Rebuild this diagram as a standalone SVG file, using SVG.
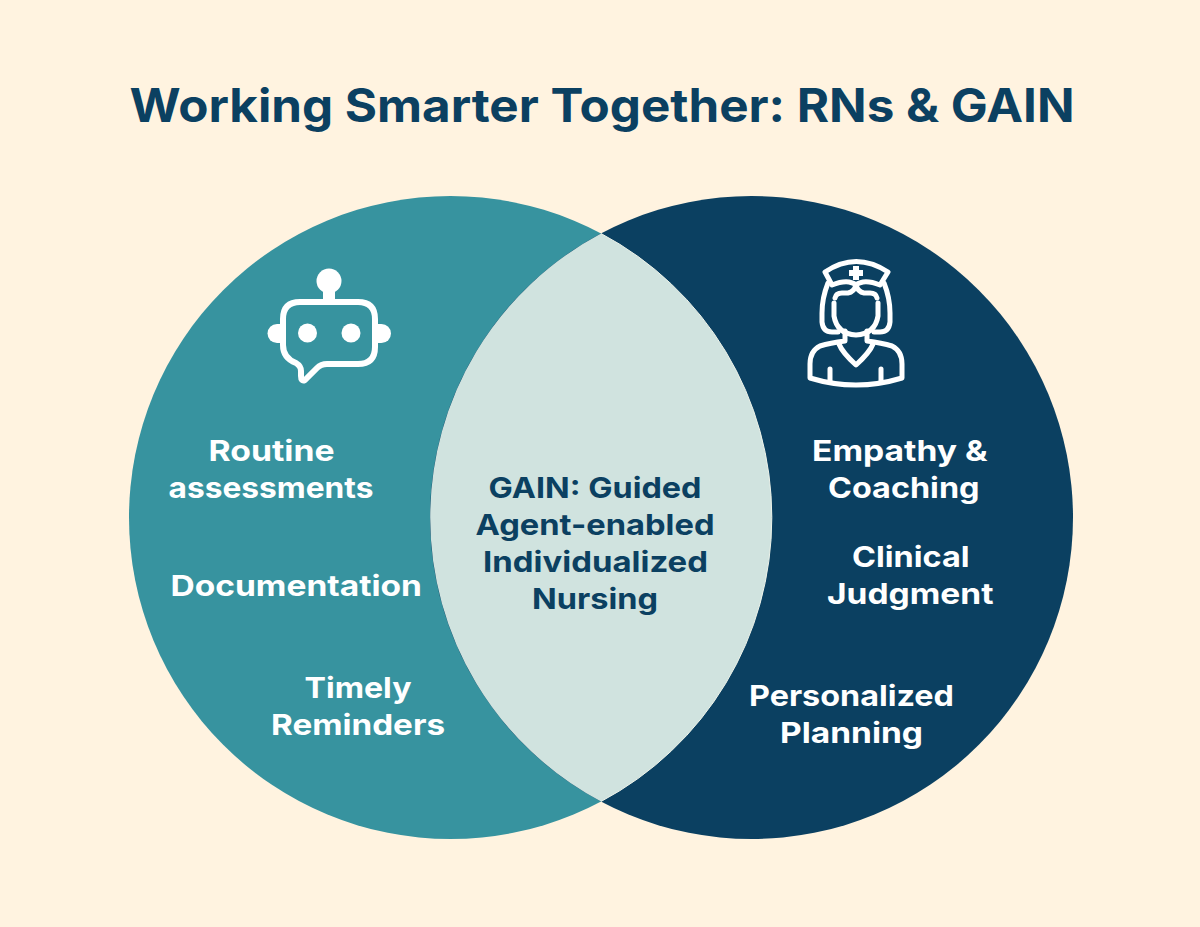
<svg xmlns="http://www.w3.org/2000/svg" width="1200" height="927" viewBox="0 0 1200 927">
<style>
text{font-family:"Inter","Liberation Sans",sans-serif;font-weight:700;font-size:29px}
.w{fill:#fff}.n{fill:#0B4061}
.ln{fill:none;stroke:#fff;stroke-width:5;stroke-linecap:round;stroke-linejoin:round}
.t{font-size:46px}
</style>
<rect width="1200" height="927" fill="#FFF3E0"/>
<text id="title" class="t n" x="129.500" y="122" textLength="945" lengthAdjust="spacingAndGlyphs">Working Smarter Together: RNs &amp; GAIN</text>
<g id="left-circle">
<circle cx="450.5" cy="517.5" r="321.5" fill="#37939F"/>
</g>
<g id="right-circle">
<circle cx="751.5" cy="517.5" r="321.5" fill="#0B4061"/>
</g>
<g id="overlap">
<path d="M601 233.5A321.5 321.5 0 0 1 601 801.5A321.5 321.5 0 0 1 601 233.5Z" fill="#D0E3DF"/>
<path d="M601 233.5A321.5 321.5 0 0 1 601 801.5" fill="none" stroke="#EEF3EA" stroke-width="1"/>
</g>
<g id="robot-icon">
<circle class="w" cx="329" cy="281" r="12.5"/>
<rect class="w" x="323" y="290" width="12" height="11"/>
<circle class="w" cx="277" cy="333.500" r="9.500"/>
<rect class="w" x="277" y="324" width="5" height="19"/>
<circle class="w" cx="381.500" cy="333.500" r="9.500"/>
<rect class="w" x="376" y="324" width="5" height="19"/>
<rect x="283" y="302" width="92" height="62" rx="17" fill="#37939F"/>
<circle class="w" cx="307.500" cy="333" r="9.500"/>
<circle class="w" cx="351" cy="333" r="9.500"/>
<path class="ln" style="stroke-width:6" d="M300 302H358Q375 302 375 319V347Q375 364 358 364H327Q321 364 317 368L305 380Q301 382 301 376V371Q301 366 296 363Q283 358 283 345V319Q283 302 300 302Z"/>
</g>
<g id="nurse-icon">
<path class="ln" d="M825 272Q856 251 888 272L880 285Q870 281 863 282Q858 283 856 285Q854 283 849 282Q842 281 832 285Z"/>
<path class="w" d="M853 266H859V270H863V276H859V280H853V276H849V270H853Z"/>
<path class="ln" d="M828 283Q822 298 822 313V322Q823 332 832 332H838M884 283Q890 298 890 313V322Q889 332 880 332H874"/>
<path class="ln" d="M835 298Q836 293 842 293H848Q854 292 856 285Q858 292 864 293H870Q876 293 877 298"/>
<path class="ln" d="M834 303V316Q837 334 856 335Q875 334 878 316V303"/>
<path class="ln" d="M845 331V341Q830 343 820 346Q810 351 810 364V378Q856 392 902 378V364Q902 351 892 346Q882 343 867 341V331"/>
<path class="ln" d="M839 344Q842 352 856 365Q870 352 873 344"/>
<path class="ln" d="M830 369V381M881 369V381"/>
</g>
<g id="left-labels">
<text class="w" x="208.500" y="461" textLength="126" lengthAdjust="spacingAndGlyphs">Routine</text>
<text class="w" x="168.500" y="498" textLength="205" lengthAdjust="spacingAndGlyphs">assessments</text>
<text class="w" x="170.500" y="596" textLength="251.500" lengthAdjust="spacingAndGlyphs">Documentation</text>
<text class="w" x="304.500" y="698" textLength="107" lengthAdjust="spacingAndGlyphs">Timely</text>
<text class="w" x="271" y="735" textLength="174" lengthAdjust="spacingAndGlyphs">Reminders</text>
</g>
<g id="center-labels">
<text class="n" x="488.500" y="498" textLength="213" lengthAdjust="spacingAndGlyphs">GAIN: Guided</text>
<text class="n" x="475.500" y="535" textLength="239" lengthAdjust="spacingAndGlyphs">Agent-enabled</text>
<text class="n" x="483" y="572" textLength="225" lengthAdjust="spacingAndGlyphs">Individualized</text>
<text class="n" x="532" y="609" textLength="126" lengthAdjust="spacingAndGlyphs">Nursing</text>
</g>
<g id="right-labels">
<text class="w" x="812" y="461" textLength="175.500" lengthAdjust="spacingAndGlyphs">Empathy &amp;</text>
<text class="w" x="828" y="498" textLength="151.500" lengthAdjust="spacingAndGlyphs">Coaching</text>
<text class="w" x="852" y="567" textLength="117.500" lengthAdjust="spacingAndGlyphs">Clinical</text>
<text class="w" x="827" y="604" textLength="166.500" lengthAdjust="spacingAndGlyphs">Judgment</text>
<text class="w" x="749" y="706" textLength="205" lengthAdjust="spacingAndGlyphs">Personalized</text>
<text class="w" x="780" y="743" textLength="143" lengthAdjust="spacingAndGlyphs">Planning</text>
</g>
</svg>
